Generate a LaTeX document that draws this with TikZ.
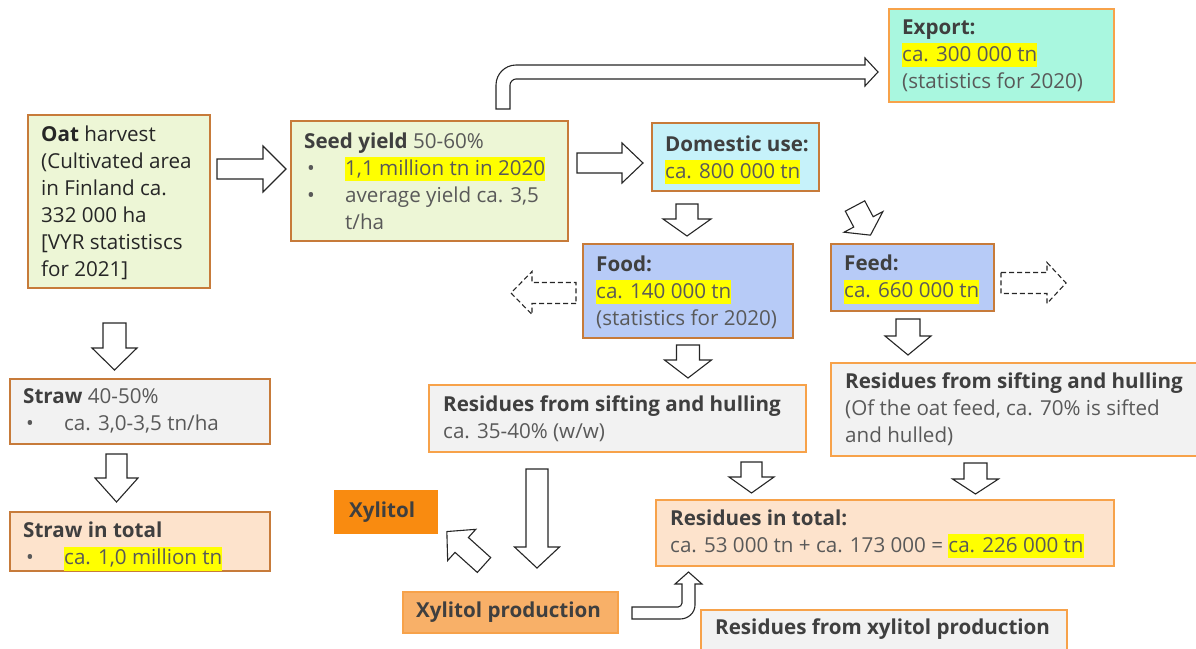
\documentclass[tikz,border=0pt]{standalone}
\usepackage{fontspec}
\setmainfont{Open Sans}
\definecolor{brd}{HTML}{C77B3A}
\definecolor{brdo}{HTML}{F7A24A}
\definecolor{grn}{HTML}{EDF6D6}
\definecolor{cyn}{HTML}{C6F2FA}
\definecolor{mint}{HTML}{A9F7DF}
\definecolor{blu}{HTML}{B7CBF7}
\definecolor{gry}{HTML}{F2F2F2}
\definecolor{pch}{HTML}{FDE3CC}
\definecolor{xyl}{HTML}{F98B10}
\definecolor{xylp}{HTML}{F8B068}
\definecolor{hly}{HTML}{FFFF00}
\definecolor{tgray}{HTML}{595959}
\definecolor{tdark}{HTML}{3F3F3F}
\newcommand\hlt[1]{{\setlength{\fboxsep}{0pt}\colorbox{hly}{\rule[-6pt]{0pt}{24pt}#1}}}
\newcommand\ttl[1]{\textbf{\color{tdark}#1}}
\newcommand\bul{\makebox[41pt][l]{\hspace{3pt}•}}
\newcommand\ind{\hspace*{41pt}}
\newcommand\bx[7]{\node[boxsty, draw=#7, fill=#6, minimum width=#4pt, minimum height=#5pt] (#1) at (#2,#3) {};}
\newcommand\barw[7]{\draw[barr, shift={(#1,#2)}, rotate=#3] (0,-#5) -- (#4-#7,-#5) -- (#4-#7,-#6) -- (#4,0) -- (#4-#7,#6) -- (#4-#7,#5) -- (0,#5) -- cycle;}
\newcommand\darw[7]{\draw[darr, shift={(#1,#2)}, rotate=#3] (0,-#5) -- (#4-#7,-#5) -- (#4-#7,-#6) -- (#4,0) -- (#4-#7,#6) -- (#4-#7,#5) -- (0,#5) -- cycle;}
\tikzset{
  boxsty/.style={line width=1.6pt, inner sep=0pt, anchor=north west},
  tx/.style={anchor=west, align=left, inner sep=0pt, font=\fontsize{20.6}{27}\selectfont, text=tgray},
  barr/.style={draw=black!85, fill=white, line width=1.1pt, line join=miter},
  darr/.style={barr, dash pattern=on 5pt off 3pt},
}
\begin{document}
\begin{tikzpicture}[x=1pt,y=-1pt]
\useasboundingbox (0,0) rectangle (1196,648);
\clip (0,0) rectangle (1196,648);
% boxes
\bx{oat}{27}{114}{182}{173}{grn}{brd}
\bx{seed}{290}{120}{277}{120}{grn}{brd}
\bx{dom}{651}{122}{167}{68}{cyn}{brd}
\bx{exp}{888}{8}{225}{93}{mint}{brdo}
\bx{food}{582}{243}{210}{94}{blu}{brd}
\bx{feed}{830}{243}{163}{67}{blu}{brd}
\bx{straw}{9}{378}{260}{65}{gry}{brd}
\bx{strawt}{9}{511}{260}{59}{pch}{brd}
\bx{resfood}{428}{384}{377}{67}{gry}{brdo}
\bx{resfeed}{830}{362}{380}{93}{gry}{brdo}
\bx{restot}{655}{499}{458}{66}{pch}{brdo}
\bx{xyl}{334}{490}{102}{42}{xyl}{xyl}
\bx{xylp}{402}{591}{215}{41}{xylp}{brdo}
\bx{resxyl}{700}{609}{366}{60}{gry}{brdo}
% texts
\node[tx, text=black!85] (oatt) at ([xshift=14pt,yshift=-1pt]oat.west) {\textbf{Oat} harvest\\(Cultivated area\\in Finland ca.\\332 000 ha\\{[}VYR statistiscs\\for 2021{]}};
\node[tx] (seedt) at ([xshift=14pt]seed.west) {\ttl{Seed yield} 50-60\%\\\bul\hlt{1,1 million tn in 2020}\\\bul average yield ca. 3,5\\\ind t/ha};
\node[tx] (domt) at ([xshift=14pt,yshift=-3pt]dom.west) {\ttl{Domestic use:}\\\hlt{ca. 800 000 tn}};
\node[tx] (expt) at ([xshift=14pt]exp.west) {\ttl{Export:}\\\hlt{ca. 300 000 tn}\\(statistics for 2020)};
\node[tx] (foodt) at ([xshift=14pt,yshift=-1pt]food.west) {\ttl{Food:}\\\hlt{ca. 140 000 tn}\\(statistics for 2020)};
\node[tx] (feedt) at ([xshift=14pt,yshift=-2pt]feed.west) {\ttl{Feed:}\\\hlt{ca. 660 000 tn}};
\node[tx] (strawtx) at ([xshift=14pt]straw.west) {\ttl{Straw} 40-50\%\\\bul ca. 3,0-3,5 tn/ha};
\node[tx] (strawttx) at ([xshift=14pt,yshift=-5pt]strawt.west) {\ttl{Straw in total}\\\bul\hlt{ca. 1,0 million tn}};
\node[tx] (resfoodt) at ([xshift=15pt]resfood.west) {\ttl{Residues from sifting and hulling}\\ca. 35-40\% (w/w)};
\node[tx] (resfeedt) at ([xshift=15pt]resfeed.west) {\ttl{Residues from sifting and hulling}\\(Of the oat feed, ca. 70\% is sifted\\and hulled)};
\node[tx] (restott) at ([xshift=15pt,yshift=-1pt]restot.west) {\ttl{Residues in total:}\\ca. 53 000 tn + ca. 173 000 = \hlt{ca. 226 000 tn}};
\node[tx] (xylt) at ([xshift=15pt]xyl.west) {\ttl{Xylitol}};
\node[tx] (xylpt) at ([xshift=14pt]xylp.west) {\ttl{Xylitol production}};
\node[tx, anchor=north west] (resxylt) at ([xshift=15pt,yshift=-10pt]resxyl.north west) {\ttl{Residues from xylitol production}};
% block arrows
\barw{217}{169}{0}{69}{10}{23}{23}
\barw{577}{163}{0}{66}{10}{20}{21}
\barw{687}{204}{-90}{32}{11}{24}{17}
\barw{855}{206}{-62}{33}{11}{22}{15}
\barw{688}{345}{-90}{33}{11.5}{23.5}{18}
\barw{908}{319}{-90}{36}{12}{23}{19}
\barw{114.5}{323}{-90}{47}{11.5}{22.5}{22}
\barw{116.5}{454}{-90}{48}{10.5}{21.5}{24}
\barw{751.5}{462}{-90}{31}{10.5}{22.5}{16}
\barw{975.5}{463}{-90}{31}{11.5}{23}{15}
\barw{537}{469}{-90}{99}{11}{22.5}{21}
\barw{484}{565}{138}{50}{10}{21}{20}
\darw{576}{293}{180}{65}{10.5}{21.5}{21}
\darw{1001}{283}{0}{65}{10.5}{20.5}{19}
% bent arrow to export
\draw[barr] (496,109) -- (496,85) .. controls (496,74) and (505,65) .. (516,65) -- (865,65) -- (865,58) -- (878,72) -- (865,86) -- (865,79) -- (516,79) .. controls (513,79) and (510,82) .. (510,85) -- (510,109) -- cycle;
% bent arrow from xylitol production to residues total
\draw[barr] (632,607) -- (678,607) .. controls (680,607) and (682,605) .. (682,603) -- (682,584) -- (675,584) -- (688.5,572) -- (702,584) -- (695,584) -- (695,605) .. controls (695,613) and (688,619) .. (680,619) -- (632,619) -- cycle;
\end{tikzpicture}
\end{document}
